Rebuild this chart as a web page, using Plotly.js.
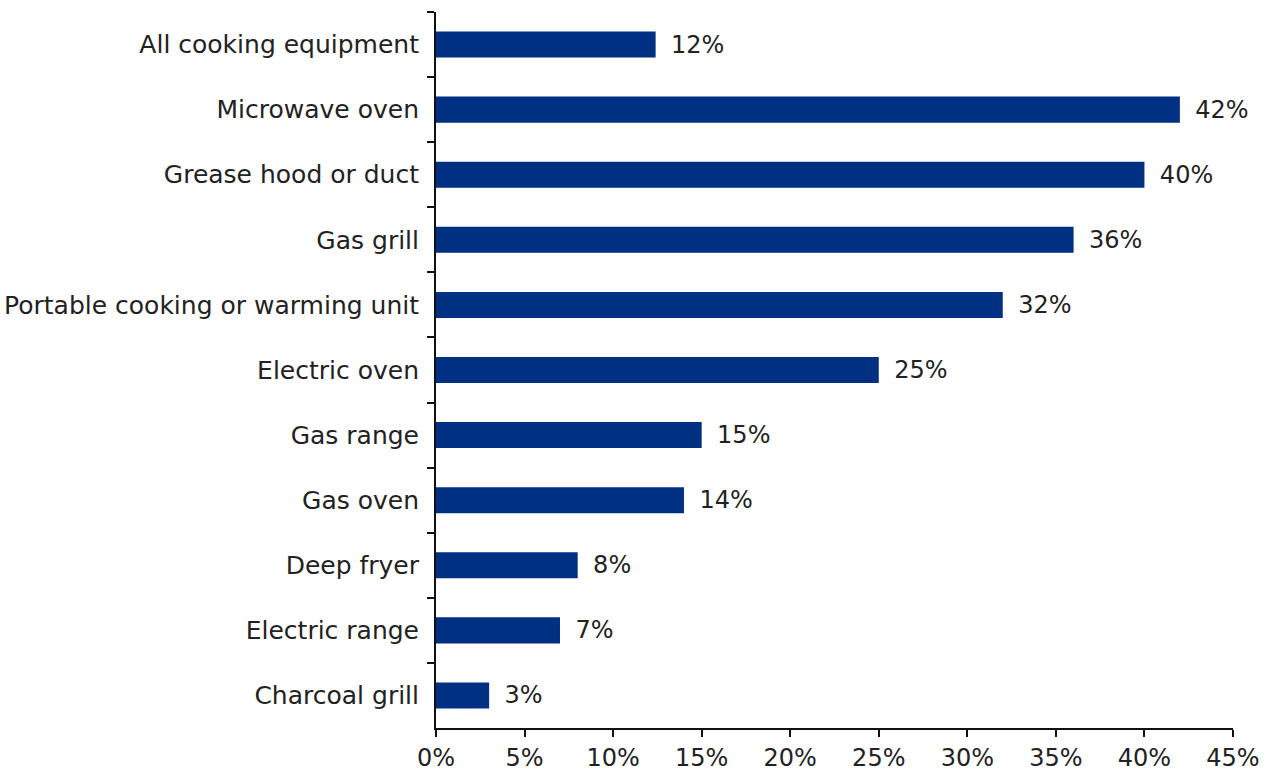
<!DOCTYPE html>
<html><head><meta charset="utf-8">
<script src="https://cdn.plot.ly/plotly-3.0.1.min.js"></script>
<style>html,body{margin:0;padding:0;background:#fff}#c{width:1281px;height:775px}</style>
</head><body><div id="c"></div>
<script>
const categories = ["All cooking equipment","Microwave oven","Grease hood or duct","Gas grill","Portable cooking or warming unit","Electric oven","Gas range","Gas oven","Deep fryer","Electric range","Charcoal grill"];
const values = [12.4, 42, 40, 36, 32, 25, 15, 14, 8, 7, 3];
const labels = ["12%","42%","40%","36%","32%","25%","15%","14%","8%","7%","3%"];
const tickVals = [0,5,10,15,20,25,30,35,40,45];
const tickText = ["0%","5%","10%","15%","20%","25%","30%","35%","40%","45%"];

const font = "DejaVu Sans, Verdana, sans-serif";
Plotly.newPlot("c", [{
  type: "bar", orientation: "h",
  y: categories, x: values,
  text: labels.map(s => "\u00a0\u2009" + s), textposition: "outside", cliponaxis: false,
  constraintext: "none",
  textfont: {family: font, size: 24, color: "#222"},
  marker: {color: "#003082"},
  width: 0.4
}], {
  width: 1281, height: 775,
  margin: {l: 436, r: 48, t: 12, b: 47},
  paper_bgcolor: "#fff", plot_bgcolor: "#fff",
  showlegend: false,
  font: {family: font, size: 24, color: "#222"},
  xaxis: {range: [0, 45], tickvals: tickVals, ticktext: tickText, showgrid: false, zeroline: false,
    showline: true, linecolor: "#111", linewidth: 2, ticks: "outside", ticklen: 7, tickwidth: 2, tickcolor: "#111",
    tickfont: {family: font, size: 24, color: "#222"}},
  yaxis: {autorange: "reversed", showgrid: false, zeroline: false, showline: true, linecolor: "#111", linewidth: 2,
    ticks: "outside", ticklen: 7, tickwidth: 2, tickcolor: "#111", tickson: "boundaries",
    ticklabelstandoff: 10, tickfont: {family: font, size: 25, color: "#222"}}
}, {staticPlot: true});
</script></body></html>
